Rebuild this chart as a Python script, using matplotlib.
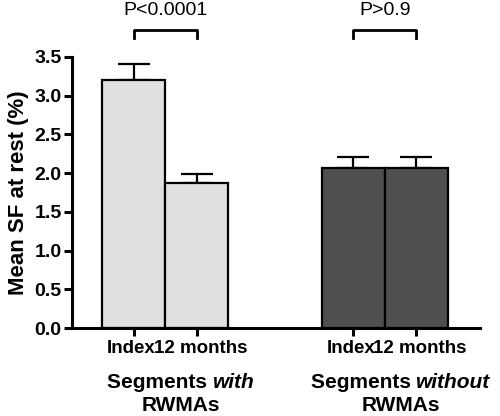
import matplotlib
matplotlib.use("Agg")
import matplotlib.pyplot as plt
import matplotlib.transforms as mtransforms
from matplotlib.offsetbox import TextArea, HPacker, VPacker, AnnotationBbox

plt.rcParams['font.family'] = ['Liberation Sans', 'DejaVu Sans']

# data
bar_labels = ["Index", "12 months", "Index", "12 months"]
means = [3.20, 1.87, 2.06, 2.06]
sems = [0.21, 0.12, 0.15, 0.15]
positions = [0, 1, 3.48, 4.48]
colors = ["#e0e0e0", "#e0e0e0", "#4f4f4f", "#4f4f4f"]
groups = [("Segments ", "with"), ("Segments ", "without")]
group_pos = [0.75, 4.23]
p_labels = ["P<0.0001", "P>0.9"]
yticks = [0.0, 0.5, 1.0, 1.5, 2.0, 2.5, 3.0, 3.5]

fig = plt.figure(figsize=(5, 4.16), dpi=100)
ax = fig.add_axes([0.144, 0.2115, 0.816, 0.6515])

ax.bar(positions, means, width=1.0, color=colors, edgecolor="black",
       linewidth=1.6, zorder=2)
ax.errorbar(positions, means, yerr=[[0] * 4, sems], fmt="none", ecolor="black",
            elinewidth=1.6, capsize=11.5, capthick=1.6, zorder=1)

ax.set_xlim(-0.98, 5.49)
ax.set_ylim(0, 3.5)
ax.set_yticks(yticks)
ax.set_yticklabels(["%.1f" % v for v in yticks], fontsize=14, fontweight="bold")
ax.set_xticks(positions)
ax.set_xticklabels(bar_labels, fontsize=13.5, fontweight="bold")
ax.tick_params(axis="both", width=2.2, length=5.5, direction="out", pad=2)
ax.tick_params(axis="x", pad=3)
ax.set_ylabel("Mean SF at rest (%)", fontsize=16, fontweight="bold", labelpad=4)

# nudge the two labels of each pair apart a little
for k, lbl in enumerate(ax.get_xticklabels()):
    dx = -2.5 if k % 2 == 0 else 3.5
    lbl.set_transform(lbl.get_transform() +
                      mtransforms.ScaledTranslation(dx / 100, 0, fig.dpi_scale_trans))

for s in ["top", "right"]:
    ax.spines[s].set_visible(False)
for s in ["left", "bottom"]:
    ax.spines[s].set_linewidth(2.2)

# group labels
for (a, b), gx in zip(groups, group_pos):
    line1 = HPacker(children=[
        TextArea(a, textprops=dict(fontsize=15, fontweight="bold")),
        TextArea(b, textprops=dict(fontsize=15, fontweight="bold", style="italic"))],
        align="baseline", pad=0, sep=0)
    line2 = TextArea("RWMAs", textprops=dict(fontsize=15, fontweight="bold"))
    box = VPacker(children=[line1, line2], align="center", pad=0, sep=3)
    ab = AnnotationBbox(box, (gx, 0), xycoords=("data", "axes fraction"),
                        xybox=(0, -32.5), boxcoords="offset points",
                        box_alignment=(0.5, 1.0), frameon=False,
                        annotation_clip=False)
    ax.add_artist(ab)

# significance brackets
for i, lab in enumerate(p_labels):
    x1, x2 = positions[2 * i], positions[2 * i + 1]
    top = 3.85
    ax.plot([x1, x1, x2, x2], [3.75, top, top, 3.75], color="black",
            linewidth=2.0, clip_on=False)
    ax.text((x1 + x2) / 2, 4.10, lab, ha="center", va="center", fontsize=14)

fig.savefig("out.png", dpi=100)
